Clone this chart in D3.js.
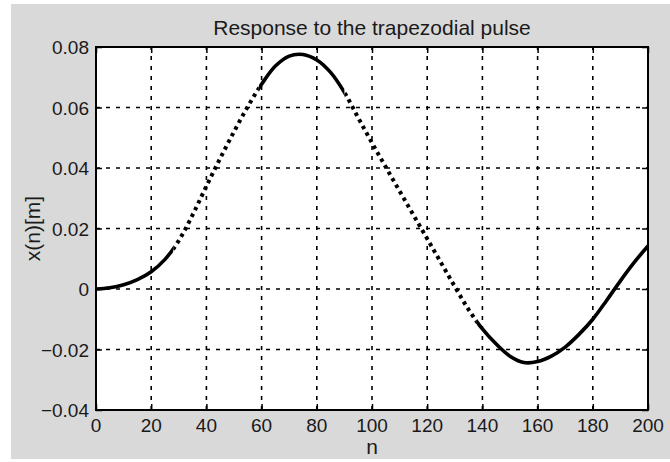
<!DOCTYPE html>
<html>
<head>
<meta charset="utf-8">
<script src="https://cdn.jsdelivr.net/npm/d3@7/dist/d3.min.js"></script>
<style>
  html, body { margin: 0; padding: 0; background: #ffffff; }
  svg { display: block; }
  text { font-family: "Liberation Sans", Arial, Helvetica, sans-serif; fill: #1a1a1a; }
</style>
</head>
<body>
<svg id="chart" width="670" height="462"></svg>
<script>
// Sample index n and displacement response x(n) in metres
const nValues = [0, 5, 10, 15, 20, 25, 30, 35, 40, 45, 50, 55, 60, 65, 70, 75, 80, 85, 90, 95,
                 100, 105, 110, 115, 120, 125, 130, 135, 140, 145, 150, 155, 160, 165, 170, 175,
                 180, 185, 190, 195, 200];
const xValues = [0.0000, 0.0004, 0.0014, 0.0031, 0.0057, 0.0098, 0.0160, 0.0245, 0.0340, 0.0432,
                 0.0520, 0.0603, 0.0677, 0.0737, 0.0770, 0.0775, 0.0757, 0.0716, 0.0650, 0.0566,
                 0.0483, 0.0403, 0.0324, 0.0245, 0.0166, 0.0087, 0.0008, -0.0068, -0.0132, -0.0182,
                 -0.0222, -0.0243, -0.0240, -0.0222, -0.0192, -0.0150, -0.0100, -0.0038, 0.0027,
                 0.0088, 0.0142];

// Phases of the trapezoidal pulse (rise, hold, fall, free vibration)
const phaseBounds = [0, 28, 59, 90, 138, 200];

// Axis ticks
const xTicks = [0, 20, 40, 60, 80, 100, 120, 140, 160, 180, 200];
const yTicks = [-0.04, -0.02, 0, 0.02, 0.04, 0.06, 0.08];
const yTickLabels = ["\u22120.04", "\u22120.02", "0", "0.02", "0.04", "0.06", "0.08"];

const svg = d3.select("#chart");
const W = 670, H = 462;
const plot = { left: 96, right: 648, top: 47, bottom: 410 };

// figure background
svg.append("rect").attr("x", 11).attr("y", 4).attr("width", W - 11).attr("height", 455)
  .attr("fill", "#d9d9d9");

const x = d3.scaleLinear().domain([0, 200]).range([plot.left, plot.right]);
const y = d3.scaleLinear().domain([-0.04, 0.08]).range([plot.bottom, plot.top]);

// axes area
svg.append("rect")
  .attr("x", plot.left).attr("y", plot.top)
  .attr("width", plot.right - plot.left).attr("height", plot.bottom - plot.top)
  .attr("fill", "#ffffff");

// grid
const grid = svg.append("g").attr("stroke", "#000").attr("stroke-width", 1.6)
  .attr("stroke-dasharray", "4,6").attr("fill", "none");
grid.selectAll("line.v").data(xTicks.slice(1, -1)).join("line")
  .attr("class", "v")
  .attr("x1", d => x(d)).attr("x2", d => x(d))
  .attr("y1", plot.bottom).attr("y2", plot.top);
grid.selectAll("line.h").data(yTicks.slice(1, -1)).join("line")
  .attr("class", "h")
  .attr("x1", plot.left).attr("x2", plot.right)
  .attr("y1", d => y(d)).attr("y2", d => y(d));

// response curve, drawn once per phase with alternating line style
const pts = nValues.map((n, i) => [n, xValues[i]]);
const lineGen = d3.line().x(d => x(d[0])).y(d => y(d[1])).curve(d3.curveCatmullRom.alpha(0.5));
const defs = svg.append("defs");
for (let i = 0; i < phaseBounds.length - 1; i++) {
  const a = phaseBounds[i], b = phaseBounds[i + 1];
  defs.append("clipPath").attr("id", "phase" + i)
    .append("rect")
    .attr("x", x(a)).attr("y", 0)
    .attr("width", x(b) - x(a)).attr("height", H);
  const dotted = i % 2 === 1;
  svg.append("path")
    .datum(pts)
    .attr("clip-path", "url(#phase" + i + ")")
    .attr("d", lineGen)
    .attr("fill", "none")
    .attr("stroke", "#000")
    .attr("stroke-width", dotted ? 4 : 3.6)
    .attr("stroke-dasharray", dotted ? "3.5,4" : null)
    .attr("stroke-linejoin", "round")
    .attr("stroke-linecap", dotted ? "butt" : "round");
}

// axes box and inward ticks
const axisG = svg.append("g");
const xAxisB = d3.axisBottom(x).tickValues(xTicks).tickSize(-6).tickFormat("");
const xAxisT = d3.axisTop(x).tickValues(xTicks).tickSize(-6).tickFormat("");
const yAxisL = d3.axisLeft(y).tickValues(yTicks).tickSize(-6).tickFormat("");
const yAxisR = d3.axisRight(y).tickValues(yTicks).tickSize(-6).tickFormat("");
[[xAxisB, `translate(0,${plot.bottom})`], [xAxisT, `translate(0,${plot.top})`],
 [yAxisL, `translate(${plot.left},0)`], [yAxisR, `translate(${plot.right},0)`]].forEach(([ax, tr]) => {
  const g = axisG.append("g").attr("transform", tr).call(ax);
  g.select(".domain").remove();
  g.selectAll(".tick line").attr("stroke", "#000").attr("stroke-width", 1.5);
});
svg.append("rect")
  .attr("x", plot.left).attr("y", plot.top)
  .attr("width", plot.right - plot.left).attr("height", plot.bottom - plot.top)
  .attr("fill", "none").attr("stroke", "#000").attr("stroke-width", 2);

// tick labels
svg.append("g").selectAll("text").data(xTicks).join("text")
  .attr("x", d => x(d)).attr("y", 432)
  .attr("text-anchor", "middle").attr("font-size", 19)
  .text(d => d);
svg.append("g").selectAll("text").data(yTicks).join("text")
  .attr("x", plot.left - 7).attr("y", d => y(d) + 7)
  .attr("text-anchor", "end").attr("font-size", 19)
  .text((d, i) => yTickLabels[i]);

// titles
svg.append("text").attr("x", (plot.left + plot.right) / 2).attr("y", 35)
  .attr("text-anchor", "middle").attr("font-size", 21)
  .text("Response to the trapezodial pulse");
svg.append("text").attr("x", (plot.left + plot.right) / 2).attr("y", 454)
  .attr("text-anchor", "middle").attr("font-size", 21)
  .text("n");
svg.append("text")
  .attr("transform", `translate(40,${(plot.top + plot.bottom) / 2}) rotate(-90)`)
  .attr("text-anchor", "middle").attr("font-size", 21)
  .text("x(n)[m]");
</script>
</body>
</html>
